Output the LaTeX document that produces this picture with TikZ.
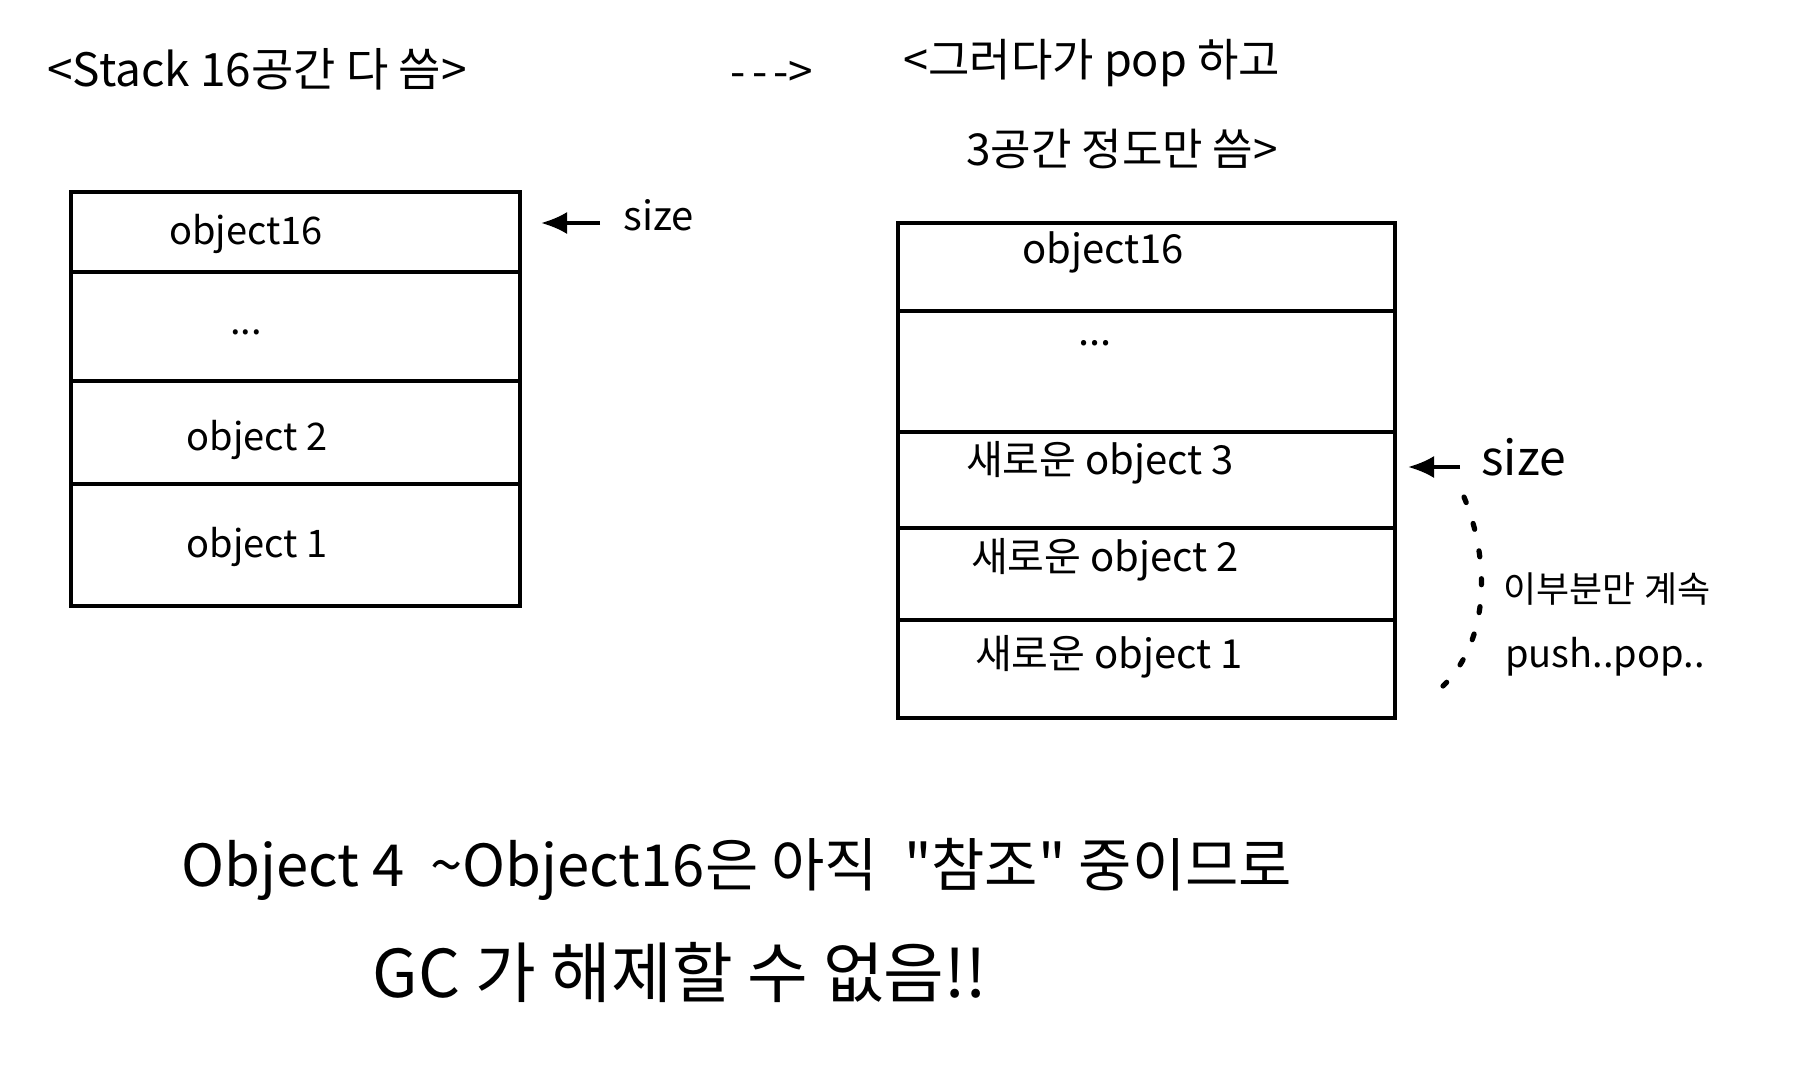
\documentclass[tikz,border=0pt]{standalone}
\usepackage{fontspec}
\newfontfamily\kr{Noto Sans CJK KR}
\usetikzlibrary{arrows.meta}
\begin{document}
\begin{tikzpicture}[x=0.5pt,y=-0.5pt,
  cell/.style={draw, line width=1.6pt, rectangle, inner sep=0pt},
  lcell/.style={cell, minimum width=224.5pt},
  rcell/.style={cell, minimum width=248.5pt},
  txt/.style={font=\kr\fontsize{#1}{#1}\selectfont, inner sep=0pt},
  ptr/.style={line width=1.6pt, -{Latex[length=13pt,width=11pt]}},
]
\useasboundingbox (0,0) rectangle (1793,1077);
% titles
\node[txt=23pt] (t1) at (257,69) {<Stack 16공간 다 씀>};
\node[txt=22pt] (t2) at (772,74) {-\kern3pt-\kern3pt->};
\node[txt=22.5pt, anchor=west] (t3) at (903,63) {<그러다가 pop 하고};
\node[txt=22pt, anchor=west] (t4) at (966,149) {3공간 정도만 씀>};
% left stack
\node[lcell, minimum height=40pt] (L4) at (295.5,232) {};
\node[lcell, minimum height=54.5pt] (L3) at (295.5,326.5) {};
\node[lcell, minimum height=51.5pt] (L2) at (295.5,432.5) {};
\node[lcell, minimum height=61pt] (L1) at (295.5,545) {};
\node[txt=19pt] (l4t) at (246,234) {object16};
\node[txt=19pt] (l3t) at (246,332) {...};
\node[txt=19pt] (l2t) at (257,440) {object 2};
\node[txt=19pt] (l1t) at (257,547) {object 1};
% left size pointer
\node[txt=20pt, anchor=west] (sz1) at (623,215) {size};
\coordinate (p1) at (541,223);
\coordinate (q1) at (600,223);
\draw[ptr] (q1) -- (p1);
% right stack
\node[rcell, minimum height=44pt] (R5) at (1146.5,267) {};
\node[rcell, minimum height=60.5pt] (R4) at (1146.5,371.5) {};
\node[rcell, minimum height=48pt] (R3) at (1146.5,480) {};
\node[rcell, minimum height=46pt] (R2) at (1146.5,574) {};
\node[rcell, minimum height=49pt] (R1) at (1146.5,669) {};
\node[txt=20pt] (r5t) at (1103,252) {object16};
\node[txt=20pt] (r4t) at (1095,343) {...};
\node[txt=20pt] (r3t) at (1100,463) {새로운 object 3};
\node[txt=20pt] (r2t) at (1105,560) {새로운 object 2};
\node[txt=20pt] (r1t) at (1109,657) {새로운 object 1};
% right size pointer
\node[txt=24pt, anchor=west] (sz2) at (1481,457) {size};
\coordinate (p2) at (1408,467);
\coordinate (q2) at (1460,467);
\draw[ptr] (q2) -- (p2);
% dotted brace
\coordinate (d1) at (1464,497);
\coordinate (d2) at (1443,686);
\draw[line width=2.6pt, line cap=round, dash pattern=on 3pt off 11pt] (d1) .. controls (1490,560) and (1490,640) .. (d2);
\node[txt=18pt] (n1) at (1607,589) {이부분만 계속};
\node[txt=19pt] (n2) at (1605,657) {push..pop..};
% bottom text
\node[txt=29pt] (b1) at (737,869) {Object 4 \ \textasciitilde Object16은 아직 \ "참조" 중이므로};
\node[txt=33pt] (b2) at (680,972) {GC 가 해제할 수 없음!!};
\end{tikzpicture}
\end{document}
